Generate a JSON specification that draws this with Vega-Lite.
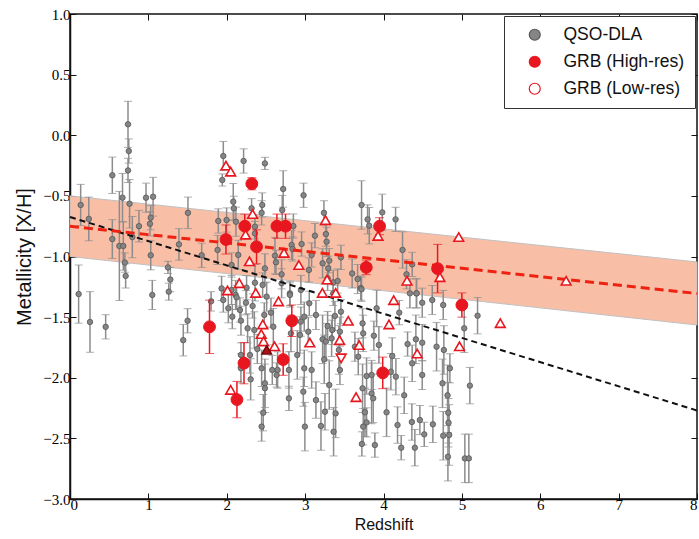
{
  "$schema": "https://vega.github.io/schema/vega-lite/v6.json",
  "width": 627,
  "height": 485,
  "autosize": "none",
  "padding": {"left": 70, "top": 14, "right": 2, "bottom": 40},
  "background": "white",
  "config": {
    "view": {"stroke": "#111", "strokeWidth": 1.5}
  },
  "datasets": {
    "lines": [
      {"x": 0, "fit": -0.75, "hi": -0.5, "lo": -1.0, "trend": -0.674},
      {"x": 8, "fit": -1.305, "hi": -1.045, "lo": -1.565, "trend": -2.27}
    ],
    "qso": [
      {"z":0.11,"m":-1.31,"e":0.24,"type":"QSO-DLA"},{"z":0.136,"m":-0.575,"e":0.17,"type":"QSO-DLA"},{"z":0.24,"m":-0.69,"e":0.18,"type":"QSO-DLA"},{"z":0.255,"m":-1.54,"e":0.25,"type":"QSO-DLA"},{"z":0.455,"m":-1.58,"e":0.1,"type":"QSO-DLA"},{"z":0.54,"m":-0.33,"e":0.15,"type":"QSO-DLA"},{"z":0.54,"m":-0.856,"e":0.16,"type":"QSO-DLA"},{"z":0.63,"m":-0.913,"e":0.45,"type":"QSO-DLA"},{"z":0.67,"m":-0.515,"e":0.2,"type":"QSO-DLA"},{"z":0.68,"m":-0.913,"e":0.2,"type":"QSO-DLA"},{"z":0.7,"m":-1.05,"e":0.08,"type":"QSO-DLA"},{"z":0.71,"m":-1.16,"e":0.1,"type":"QSO-DLA"},{"z":0.74,"m":0.09,"e":0.19,"type":"QSO-DLA"},{"z":0.75,"m":-0.13,"e":0.1,"type":"QSO-DLA"},{"z":0.74,"m":-0.29,"e":0.1,"type":"QSO-DLA"},{"z":0.76,"m":-0.565,"e":0.2,"type":"QSO-DLA"},{"z":0.795,"m":-0.84,"e":0.17,"type":"QSO-DLA"},{"z":0.88,"m":-0.75,"e":0.13,"type":"QSO-DLA"},{"z":0.97,"m":-0.515,"e":0.12,"type":"QSO-DLA"},{"z":1.03,"m":-0.68,"e":0.1,"type":"QSO-DLA"},{"z":1.02,"m":-0.73,"e":0.1,"type":"QSO-DLA"},{"z":1.06,"m":-0.507,"e":0.16,"type":"QSO-DLA"},{"z":1.03,"m":-0.99,"e":0.12,"type":"QSO-DLA"},{"z":1.05,"m":-1.317,"e":0.12,"type":"QSO-DLA"},{"z":1.25,"m":-1.09,"e":0.05,"type":"QSO-DLA"},{"z":1.28,"m":-1.19,"e":0.1,"type":"QSO-DLA"},{"z":1.26,"m":-1.29,"e":0.07,"type":"QSO-DLA"},{"z":1.39,"m":-0.9,"e":0.13,"type":"QSO-DLA"},{"z":1.445,"m":-1.69,"e":0.13,"type":"QSO-DLA"},{"z":1.5,"m":-1.53,"e":0.1,"type":"QSO-DLA"},{"z":1.505,"m":-0.64,"e":0.13,"type":"QSO-DLA"},{"z":1.68,"m":-0.99,"e":0.1,"type":"QSO-DLA"},{"z":1.8,"m":-1.37,"e":0.08,"type":"QSO-DLA"},
      {"z":1.956,"m":-0.171,"e":0.12,"type":"QSO-DLA"},{"z":1.943,"m":-0.369,"e":0.05,"type":"QSO-DLA"},{"z":2.215,"m":-0.212,"e":0.1,"type":"QSO-DLA"},{"z":2.487,"m":-0.232,"e":0.05,"type":"QSO-DLA"},{"z":2.083,"m":-0.548,"e":0.15,"type":"QSO-DLA"},{"z":2.09,"m":-0.603,"e":0.1,"type":"QSO-DLA"},{"z":2.317,"m":-0.603,"e":0.08,"type":"QSO-DLA"},{"z":2.453,"m":-0.575,"e":0.1,"type":"QSO-DLA"},{"z":2.445,"m":-0.64,"e":0.1,"type":"QSO-DLA"},{"z":2.72,"m":-0.443,"e":0.15,"type":"QSO-DLA"},{"z":2.708,"m":-0.617,"e":0.12,"type":"QSO-DLA"},{"z":2.98,"m":-0.495,"e":0.1,"type":"QSO-DLA"},{"z":3.24,"m":-0.64,"e":0.1,"type":"QSO-DLA"},{"z":1.892,"m":-0.707,"e":0.1,"type":"QSO-DLA"},{"z":1.998,"m":-0.699,"e":0.1,"type":"QSO-DLA"},{"z":2.117,"m":-0.713,"e":0.12,"type":"QSO-DLA"},{"z":2.36,"m":-0.754,"e":0.1,"type":"QSO-DLA"},{"z":2.36,"m":-0.81,"e":0.1,"type":"QSO-DLA"},{"z":2.85,"m":-0.749,"e":0.1,"type":"QSO-DLA"},{"z":2.828,"m":-0.905,"e":0.12,"type":"QSO-DLA"},{"z":2.955,"m":-0.897,"e":0.1,"type":"QSO-DLA"},{"z":3.125,"m":-0.828,"e":0.1,"type":"QSO-DLA"},{"z":3.265,"m":-0.815,"e":0.1,"type":"QSO-DLA"},{"z":3.274,"m":-0.878,"e":0.12,"type":"QSO-DLA"},{"z":3.308,"m":-1.034,"e":0.1,"type":"QSO-DLA"},{"z":3.457,"m":-1.007,"e":0.1,"type":"QSO-DLA"},{"z":1.883,"m":-0.946,"e":0.12,"type":"QSO-DLA"},{"z":2.062,"m":-1.07,"e":0.1,"type":"QSO-DLA"},{"z":2.147,"m":-0.987,"e":0.12,"type":"QSO-DLA"},{"z":2.487,"m":-1.098,"e":0.12,"type":"QSO-DLA"},{"z":2.615,"m":-0.993,"e":0.15,"type":"QSO-DLA"},{"z":2.628,"m":-1.048,"e":0.1,"type":"QSO-DLA"},{"z":2.7,"m":-1.147,"e":0.12,"type":"QSO-DLA"},{"z":2.84,"m":-0.938,"e":0.1,"type":"QSO-DLA"},{"z":3.083,"m":-0.987,"e":0.1,"type":"QSO-DLA"},{"z":3.048,"m":-1.111,"e":0.1,"type":"QSO-DLA"},{"z":3.223,"m":-1.056,"e":0.12,"type":"QSO-DLA"},{"z":3.295,"m":-1.098,"e":0.1,"type":"QSO-DLA"},{"z":3.359,"m":-1.213,"e":0.1,"type":"QSO-DLA"},{"z":3.415,"m":-1.202,"e":0.1,"type":"QSO-DLA"},{"z":3.67,"m":-1.186,"e":0.12,"type":"QSO-DLA"},{"z":1.934,"m":-1.263,"e":0.1,"type":"QSO-DLA"},{"z":2.062,"m":-1.276,"e":0.12,"type":"QSO-DLA"},{"z":2.253,"m":-1.257,"e":0.1,"type":"QSO-DLA"},{"z":2.36,"m":-1.216,"e":0.15,"type":"QSO-DLA"},{"z":2.458,"m":-1.235,"e":0.1,"type":"QSO-DLA"},{"z":2.7,"m":-1.221,"e":0.12,"type":"QSO-DLA"},{"z":2.806,"m":-1.304,"e":0.1,"type":"QSO-DLA"},{"z":2.946,"m":-1.276,"e":0.12,"type":"QSO-DLA"},{"z":3.359,"m":-1.304,"e":0.1,"type":"QSO-DLA"},{"z":3.6,"m":-1.14,"e":0.12,"type":"QSO-DLA"},{"z":3.71,"m":-1.26,"e":0.1,"type":"QSO-DLA"},{"z":3.287,"m":-1.18,"e":0.1,"type":"QSO-DLA"},
      {"z":3.72,"m":-0.575,"e":0.2,"type":"QSO-DLA"},{"z":3.797,"m":-0.694,"e":0.12,"type":"QSO-DLA"},{"z":3.818,"m":-0.746,"e":0.15,"type":"QSO-DLA"},{"z":3.984,"m":-0.636,"e":0.15,"type":"QSO-DLA"},{"z":4.154,"m":-0.694,"e":0.1,"type":"QSO-DLA"},{"z":4.243,"m":-0.946,"e":0.15,"type":"QSO-DLA"},{"z":4.294,"m":-1.147,"e":0.12,"type":"QSO-DLA"},{"z":4.366,"m":-1.065,"e":0.1,"type":"QSO-DLA"},{"z":4.42,"m":-1.304,"e":0.12,"type":"QSO-DLA"},{"z":3.72,"m":-1.27,"e":0.1,"type":"QSO-DLA"},
      {"z":1.956,"m":-1.359,"e":0.1,"type":"QSO-DLA"},{"z":2.02,"m":-1.427,"e":0.12,"type":"QSO-DLA"},{"z":2.071,"m":-1.496,"e":0.1,"type":"QSO-DLA"},{"z":2.113,"m":-1.317,"e":0.12,"type":"QSO-DLA"},{"z":2.168,"m":-1.441,"e":0.1,"type":"QSO-DLA"},{"z":2.181,"m":-1.529,"e":0.12,"type":"QSO-DLA"},{"z":2.245,"m":-1.381,"e":0.1,"type":"QSO-DLA"},{"z":2.266,"m":-1.592,"e":0.12,"type":"QSO-DLA"},{"z":2.33,"m":-1.408,"e":0.1,"type":"QSO-DLA"},{"z":2.352,"m":-1.606,"e":0.15,"type":"QSO-DLA"},{"z":2.39,"m":-1.763,"e":0.12,"type":"QSO-DLA"},{"z":2.296,"m":-1.812,"e":0.15,"type":"QSO-DLA"},{"z":2.181,"m":-1.812,"e":0.1,"type":"QSO-DLA"},{"z":2.181,"m":-1.922,"e":0.12,"type":"QSO-DLA"},{"z":2.305,"m":-2.013,"e":0.17,"type":"QSO-DLA"},{"z":2.445,"m":-1.922,"e":0.15,"type":"QSO-DLA"},{"z":2.487,"m":-2.046,"e":0.2,"type":"QSO-DLA"},{"z":2.487,"m":-2.087,"e":0.2,"type":"QSO-DLA"},{"z":2.466,"m":-2.288,"e":0.15,"type":"QSO-DLA"},{"z":2.445,"m":-2.403,"e":0.12,"type":"QSO-DLA"},{"z":2.509,"m":-1.331,"e":0.12,"type":"QSO-DLA"},{"z":2.564,"m":-1.463,"e":0.12,"type":"QSO-DLA"},{"z":2.594,"m":-1.579,"e":0.15,"type":"QSO-DLA"},{"z":2.479,"m":-1.482,"e":0.1,"type":"QSO-DLA"},{"z":2.581,"m":-1.936,"e":0.12,"type":"QSO-DLA"},{"z":2.636,"m":-1.977,"e":0.1,"type":"QSO-DLA"},{"z":2.649,"m":-1.936,"e":0.15,"type":"QSO-DLA"},{"z":2.793,"m":-2.17,"e":0.1,"type":"QSO-DLA"},{"z":2.793,"m":-1.936,"e":0.15,"type":"QSO-DLA"},{"z":2.806,"m":-1.317,"e":0.1,"type":"QSO-DLA"},{"z":2.819,"m":-1.634,"e":0.15,"type":"QSO-DLA"},{"z":2.9,"m":-1.812,"e":0.2,"type":"QSO-DLA"},{"z":2.934,"m":-1.647,"e":0.15,"type":"QSO-DLA"},{"z":2.946,"m":-1.537,"e":0.12,"type":"QSO-DLA"},{"z":2.989,"m":-1.496,"e":0.12,"type":"QSO-DLA"},{"z":3.04,"m":-1.62,"e":0.12,"type":"QSO-DLA"},{"z":3.053,"m":-1.386,"e":0.1,"type":"QSO-DLA"},{"z":2.989,"m":-1.922,"e":0.15,"type":"QSO-DLA"},{"z":3.083,"m":-1.936,"e":0.15,"type":"QSO-DLA"},{"z":2.977,"m":-2.115,"e":0.12,"type":"QSO-DLA"},{"z":3.138,"m":-2.184,"e":0.15,"type":"QSO-DLA"},{"z":3.138,"m":-1.482,"e":0.12,"type":"QSO-DLA"},{"z":2.997,"m":-2.403,"e":0.2,"type":"QSO-DLA"},{"z":3.202,"m":-2.398,"e":0.2,"type":"QSO-DLA"},{"z":3.223,"m":-1.683,"e":0.2,"type":"QSO-DLA"},{"z":3.244,"m":-1.848,"e":0.2,"type":"QSO-DLA"},{"z":3.265,"m":-1.702,"e":0.15,"type":"QSO-DLA"},{"z":3.287,"m":-1.573,"e":0.12,"type":"QSO-DLA"},{"z":3.338,"m":-1.675,"e":0.15,"type":"QSO-DLA"},{"z":3.308,"m":-2.06,"e":0.2,"type":"QSO-DLA"},{"z":3.253,"m":-2.28,"e":0.15,"type":"QSO-DLA"},{"z":3.389,"m":-2.294,"e":0.2,"type":"QSO-DLA"},{"z":3.363,"m":-2.445,"e":0.2,"type":"QSO-DLA"},{"z":3.346,"m":-1.606,"e":0.12,"type":"QSO-DLA"},{"z":3.444,"m":-1.62,"e":0.12,"type":"QSO-DLA"},{"z":3.431,"m":-1.771,"e":0.2,"type":"QSO-DLA"},{"z":3.457,"m":-1.455,"e":0.1,"type":"QSO-DLA"},{"z":3.38,"m":-1.49,"e":0.12,"type":"QSO-DLA"},{"z":3.444,"m":-1.936,"e":0.12,"type":"QSO-DLA"},{"z":3.635,"m":-1.744,"e":0.12,"type":"QSO-DLA"},{"z":3.678,"m":-1.826,"e":0.15,"type":"QSO-DLA"},{"z":2.126,"m":-1.337,"e":0.1,"type":"QSO-DLA"},
      {"z":3.733,"m":-1.551,"e":0.12,"type":"QSO-DLA"},{"z":3.741,"m":-1.634,"e":0.15,"type":"QSO-DLA"},{"z":3.877,"m":-1.653,"e":0.12,"type":"QSO-DLA"},{"z":3.941,"m":-1.73,"e":0.15,"type":"QSO-DLA"},{"z":3.912,"m":-1.427,"e":0.15,"type":"QSO-DLA"},{"z":3.784,"m":-1.986,"e":0.15,"type":"QSO-DLA"},{"z":3.848,"m":-1.977,"e":0.12,"type":"QSO-DLA"},{"z":3.848,"m":-2.129,"e":0.25,"type":"QSO-DLA"},{"z":3.869,"m":-2.17,"e":0.2,"type":"QSO-DLA"},{"z":3.733,"m":-2.087,"e":0.2,"type":"QSO-DLA"},{"z":3.763,"m":-2.285,"e":0.2,"type":"QSO-DLA"},{"z":3.741,"m":-2.403,"e":0.15,"type":"QSO-DLA"},{"z":3.784,"m":-2.368,"e":0.12,"type":"QSO-DLA"},{"z":3.724,"m":-2.546,"e":0.1,"type":"QSO-DLA"},{"z":3.89,"m":-2.555,"e":0.1,"type":"QSO-DLA"},{"z":4.039,"m":-2.285,"e":0.2,"type":"QSO-DLA"},{"z":4.094,"m":-1.95,"e":0.15,"type":"QSO-DLA"},{"z":4.111,"m":-1.821,"e":0.15,"type":"QSO-DLA"},{"z":4.158,"m":-1.991,"e":0.15,"type":"QSO-DLA"},{"z":4.179,"m":-2.39,"e":0.15,"type":"QSO-DLA"},{"z":4.201,"m":-1.463,"e":0.1,"type":"QSO-DLA"},{"z":4.226,"m":-2.577,"e":0.1,"type":"QSO-DLA"},{"z":4.264,"m":-2.145,"e":0.15,"type":"QSO-DLA"},{"z":4.307,"m":-1.722,"e":0.1,"type":"QSO-DLA"},{"z":4.366,"m":-1.881,"e":0.15,"type":"QSO-DLA"},{"z":4.362,"m":-2.365,"e":0.15,"type":"QSO-DLA"},{"z":4.4,"m":-2.577,"e":0.15,"type":"QSO-DLA"},{"z":4.413,"m":-1.683,"e":0.2,"type":"QSO-DLA"},{"z":4.464,"m":-2.349,"e":0.12,"type":"QSO-DLA"},{"z":4.494,"m":-1.381,"e":0.12,"type":"QSO-DLA"},{"z":4.494,"m":-1.711,"e":0.15,"type":"QSO-DLA"},{"z":4.494,"m":-1.977,"e":0.12,"type":"QSO-DLA"},{"z":4.52,"m":-2.467,"e":0.1,"type":"QSO-DLA"},{"z":4.337,"m":-1.304,"e":0.12,"type":"QSO-DLA"},{"z":4.422,"m":-1.304,"e":0.12,"type":"QSO-DLA"},{"z":4.622,"m":-1.359,"e":0.12,"type":"QSO-DLA"},{"z":4.63,"m":-2.384,"e":0.15,"type":"QSO-DLA"},{"z":4.677,"m":-1.744,"e":0.2,"type":"QSO-DLA"},{"z":4.762,"m":-1.4,"e":0.12,"type":"QSO-DLA"},{"z":4.77,"m":-1.771,"e":0.2,"type":"QSO-DLA"},{"z":4.762,"m":-2.478,"e":0.2,"type":"QSO-DLA"},{"z":4.753,"m":-2.046,"e":0.2,"type":"QSO-DLA"},{"z":4.817,"m":-2.145,"e":0.25,"type":"QSO-DLA"},{"z":4.847,"m":-1.922,"e":0.12,"type":"QSO-DLA"},{"z":4.826,"m":-2.288,"e":0.25,"type":"QSO-DLA"},{"z":4.83,"m":-2.371,"e":0.2,"type":"QSO-DLA"},{"z":4.822,"m":-2.651,"e":0.2,"type":"QSO-DLA"},{"z":4.838,"m":-2.472,"e":0.25,"type":"QSO-DLA"},{"z":5.03,"m":-1.592,"e":0.2,"type":"QSO-DLA"},{"z":5.2,"m":-1.488,"e":0.15,"type":"QSO-DLA"},{"z":5.102,"m":-2.065,"e":0.15,"type":"QSO-DLA"},{"z":5.038,"m":-2.665,"e":0.2,"type":"QSO-DLA"},{"z":5.089,"m":-2.665,"e":0.2,"type":"QSO-DLA"}
    ],
    "high": [
      {"z":1.78,"m":-1.58,"e":0.22,"type":"GRB (High-res)"},{"z":1.99,"m":-0.86,"e":0.12,"type":"GRB (High-res)"},{"z":2.13,"m":-2.18,"e":0.15,"type":"GRB (High-res)"},{"z":2.23,"m":-0.75,"e":0.1,"type":"GRB (High-res)"},{"z":2.22,"m":-1.88,"e":0.17,"type":"GRB (High-res)"},{"z":2.32,"m":-0.4,"e":0.05,"type":"GRB (High-res)"},{"z":2.38,"m":-0.92,"e":0.14,"type":"GRB (High-res)"},{"z":2.64,"m":-0.75,"e":0.1,"type":"GRB (High-res)"},{"z":2.75,"m":-0.75,"e":0.1,"type":"GRB (High-res)"},{"z":2.72,"m":-1.85,"e":0.13,"type":"GRB (High-res)"},{"z":2.83,"m":-1.53,"e":0.13,"type":"GRB (High-res)"},{"z":3.78,"m":-1.09,"e":0.06,"type":"GRB (High-res)"},{"z":3.95,"m":-0.75,"e":0.07,"type":"GRB (High-res)"},{"z":3.99,"m":-1.96,"e":0.13,"type":"GRB (High-res)"},{"z":4.69,"m":-1.1,"e":0.2,"type":"GRB (High-res)"},{"z":5.0,"m":-1.4,"e":0.1,"type":"GRB (High-res)"}
    ],
    "low": [
      {"z":1.99,"m":-0.25,"type":"GRB (Low-res)"},{"z":2.05,"m":-0.3,"type":"GRB (Low-res)"},{"z":2.33,"m":-0.65,"type":"GRB (Low-res)"},{"z":2.24,"m":-0.82,"type":"GRB (Low-res)"},{"z":2.73,"m":-0.97,"type":"GRB (Low-res)"},{"z":2.29,"m":-1.04,"type":"GRB (Low-res)"},{"z":2.92,"m":-1.07,"type":"GRB (Low-res)"},{"z":3.26,"m":-0.7,"type":"GRB (Low-res)"},{"z":3.28,"m":-1.19,"type":"GRB (Low-res)"},{"z":2.16,"m":-1.22,"type":"GRB (Low-res)"},{"z":2.01,"m":-1.28,"type":"GRB (Low-res)"},{"z":2.37,"m":-1.3,"type":"GRB (Low-res)"},{"z":3.22,"m":-1.3,"type":"GRB (Low-res)"},{"z":3.39,"m":-1.3,"type":"GRB (Low-res)"},{"z":3.93,"m":-0.83,"type":"GRB (Low-res)"},{"z":2.66,"m":-1.37,"type":"GRB (Low-res)"},{"z":2.46,"m":-1.56,"type":"GRB (Low-res)"},{"z":3.55,"m":-1.53,"type":"GRB (Low-res)"},{"z":2.44,"m":-1.64,"type":"GRB (Low-res)"},{"z":2.47,"m":-1.7,"type":"GRB (Low-res)"},{"z":2.61,"m":-1.74,"type":"GRB (Low-res)"},{"z":3.06,"m":-1.71,"type":"GRB (Low-res)"},{"z":3.44,"m":-1.69,"type":"GRB (Low-res)"},{"z":2.05,"m":-2.1,"type":"GRB (Low-res)"},{"z":3.65,"m":-2.16,"type":"GRB (Low-res)"},{"z":3.69,"m":-1.73,"type":"GRB (Low-res)"},{"z":4.13,"m":-1.36,"type":"GRB (Low-res)"},{"z":4.07,"m":-1.56,"type":"GRB (Low-res)"},{"z":4.43,"m":-1.8,"type":"GRB (Low-res)"},{"z":4.97,"m":-1.74,"type":"GRB (Low-res)"},{"z":5.49,"m":-1.55,"type":"GRB (Low-res)"},{"z":4.96,"m":-0.84,"type":"GRB (Low-res)"},{"z":4.3,"m":-1.2,"type":"GRB (Low-res)"},{"z":4.72,"m":-1.17,"type":"GRB (Low-res)"},{"z":6.33,"m":-1.2,"type":"GRB (Low-res)"}
    ],
    "lowdown": [{"z":3.46,"m":-1.84,"type":"GRB (Low-res)"}],
    "dark": [{"z":2.51,"m":-1.77}]
  },
  "resolve": {"axis": {"x": "independent", "y": "independent"}},
  "layer": [
    {
      "data": {"name": "lines"},
      "mark": {"type": "area", "fill": "#f9bea6", "stroke": "#c0c0c0", "strokeWidth": 1},
      "encoding": {
        "x": {"field": "x", "type": "quantitative", "scale": {"domain": [0, 8], "nice": false, "zero": false},
              "axis": {"values": [0,1,2,3,4,5,6,7,8], "format": "d", "grid": false, "tickSize": -6, "tickColor": "#111", "domainColor": "#111", "domainWidth": 1.5, "labelPadding": 4, "labelFont": "Liberation Serif", "labelFontSize": 15, "labelColor": "#000", "title": "Redshift", "titleFont": "Liberation Sans", "titleFontWeight": "normal", "titleFontSize": 16, "titleColor": "#111", "titlePadding": 4}},
        "y": {"field": "hi", "type": "quantitative", "scale": {"domain": [-3, 1], "nice": false, "zero": false},
              "axis": {"values": [-3,-2.5,-2,-1.5,-1,-0.5,0,0.5,1], "format": ".1f", "grid": false, "tickSize": -6, "tickColor": "#111", "domainColor": "#111", "domainWidth": 1.5, "labelPadding": 6, "labelFont": "Liberation Serif", "labelFontSize": 15, "labelColor": "#000", "title": "Metallicity [X/H]", "titleFont": "Liberation Sans", "titleFontWeight": "normal", "titleFontSize": 20, "titleColor": "#111", "titlePadding": 8}},
        "y2": {"field": "lo"}
      }
    },
    {
      "data": {"name": "lines"},
      "mark": {"type": "point", "opacity": 0},
      "encoding": {
        "x": {"field": "x", "type": "quantitative", "axis": {"orient": "top", "values": [0,1,2,3,4,5,6,7,8], "grid": false, "labels": false, "tickSize": -6, "tickColor": "#111", "domain": false, "title": null}},
        "y": {"field": "fit", "type": "quantitative", "axis": {"orient": "right", "values": [-3,-2.5,-2,-1.5,-1,-0.5,0,0.5,1], "grid": false, "labels": false, "tickSize": -6, "tickColor": "#111", "domain": false, "title": null}}
      }
    },
    {
      "data": {"name": "qso"},
      "mark": {"type": "errorbar", "ticks": {"size": 8}, "color": "#8c8c8c", "rule": {"strokeWidth": 1.5}},
      "encoding": {
        "x": {"field": "z", "type": "quantitative", "axis": null},
        "y": {"field": "m", "type": "quantitative", "axis": null},
        "yError": {"field": "e"}
      }
    },
    {
      "data": {"name": "qso"},
      "mark": {"type": "point", "shape": "circle", "size": 30, "filled": true, "opacity": 1, "strokeWidth": 0.8},
      "encoding": {
        "x": {"field": "z", "type": "quantitative", "axis": null},
        "y": {"field": "m", "type": "quantitative", "axis": null},
        "fill": {"field": "type", "type": "nominal", "scale": {"domain": ["QSO-DLA", "GRB (High-res)", "GRB (Low-res)"], "range": ["#858585", "#e8161e", "#ffffff"]},
                 "legend": {"title": null, "orient": "none", "legendX": 434, "legendY": 2, "symbolType": "circle", "symbolSize": 120, "symbolStrokeWidth": 1.2, "strokeColor": "#333", "fillColor": "#ffffff", "padding": 10, "rowPadding": 8, "labelOffset": 20, "symbolOffset": 12, "cornerRadius": 0, "labelLimit": 300, "labelFont": "Liberation Sans", "labelFontSize": 17.5, "labelColor": "#111"}},
        "stroke": {"field": "type", "type": "nominal", "scale": {"domain": ["QSO-DLA", "GRB (High-res)", "GRB (Low-res)"], "range": ["#555555", "#e8161e", "#e8161e"]},
                 "legend": {"title": null, "orient": "none", "legendX": 434, "legendY": 2, "symbolType": "circle", "symbolSize": 120, "symbolStrokeWidth": 1.2, "strokeColor": "#333", "fillColor": "#ffffff", "padding": 10, "rowPadding": 8, "labelOffset": 20, "symbolOffset": 12, "cornerRadius": 0, "labelLimit": 300, "labelFont": "Liberation Sans", "labelFontSize": 17.5, "labelColor": "#111"}}
      }
    },
    {
      "data": {"name": "lines"},
      "mark": {"type": "line", "color": "#111111", "strokeWidth": 2, "strokeDash": [6, 4]},
      "encoding": {
        "x": {"field": "x", "type": "quantitative", "axis": null},
        "y": {"field": "trend", "type": "quantitative", "axis": null}
      }
    },
    {
      "data": {"name": "lines"},
      "mark": {"type": "line", "color": "#ee2211", "strokeWidth": 3, "strokeDash": [9, 5]},
      "encoding": {
        "x": {"field": "x", "type": "quantitative", "axis": null},
        "y": {"field": "fit", "type": "quantitative", "axis": null}
      }
    },
    {
      "data": {"name": "high"},
      "mark": {"type": "errorbar", "ticks": {"size": 9}, "color": "#e8161e", "rule": {"strokeWidth": 1.5}},
      "encoding": {
        "x": {"field": "z", "type": "quantitative", "axis": null},
        "y": {"field": "m", "type": "quantitative", "axis": null},
        "yError": {"field": "e"}
      }
    },
    {
      "data": {"name": "high"},
      "mark": {"type": "point", "shape": "circle", "size": 140, "filled": true, "opacity": 1, "strokeWidth": 1},
      "encoding": {
        "x": {"field": "z", "type": "quantitative", "axis": null},
        "y": {"field": "m", "type": "quantitative", "axis": null},
        "fill": {"field": "type", "type": "nominal"},
        "stroke": {"field": "type", "type": "nominal"}
      }
    },
    {
      "data": {"name": "low"},
      "mark": {"type": "point", "shape": "triangle-up", "size": 95, "filled": true, "opacity": 1, "strokeWidth": 1.6},
      "encoding": {
        "x": {"field": "z", "type": "quantitative", "axis": null},
        "y": {"field": "m", "type": "quantitative", "axis": null},
        "fill": {"field": "type", "type": "nominal"},
        "stroke": {"field": "type", "type": "nominal"}
      }
    },
    {
      "data": {"name": "lowdown"},
      "mark": {"type": "point", "shape": "triangle-down", "size": 95, "filled": true, "opacity": 1, "strokeWidth": 1.6},
      "encoding": {
        "x": {"field": "z", "type": "quantitative", "axis": null},
        "y": {"field": "m", "type": "quantitative", "axis": null},
        "fill": {"field": "type", "type": "nominal"},
        "stroke": {"field": "type", "type": "nominal"}
      }
    },
    {
      "data": {"name": "dark"},
      "mark": {"type": "point", "shape": "triangle-up", "size": 95, "filled": true, "opacity": 1, "fill": "#b01015", "stroke": "#6a0a0a", "strokeWidth": 1.4},
      "encoding": {
        "x": {"field": "z", "type": "quantitative", "axis": null},
        "y": {"field": "m", "type": "quantitative", "axis": null}
      }
    }
  ]
}
